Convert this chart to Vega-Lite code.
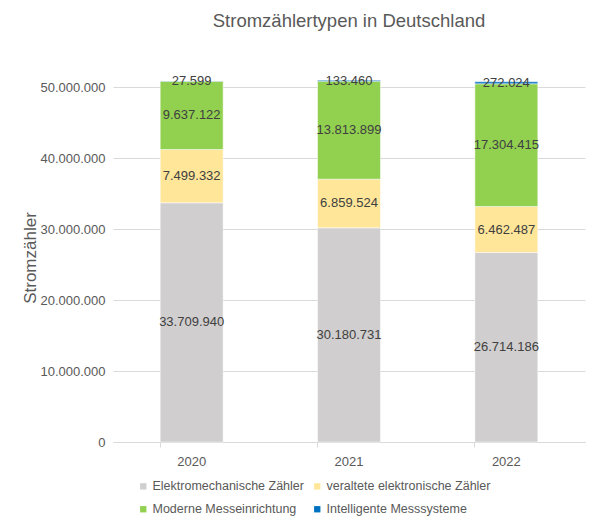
{
  "$schema": "https://vega.github.io/schema/vega-lite/v6.json",
  "width": 472,
  "height": 369,
  "padding": {"left": 21, "top": 11, "right": 14, "bottom": 5},
  "background": "white",
  "config": {
    "font": "Liberation Sans",
    "view": {"stroke": null},
    "locale": {"number": {"decimal": ",", "thousands": ".", "grouping": [3], "currency": ["", " €"]}}
  },
  "title": {"text": "Stromzählertypen in Deutschland", "fontSize": 18.5, "fontWeight": "normal", "color": "#595959", "offset": 43, "font": "Liberation Sans"},
  "data": {"values": [
    {"jahr": "2020", "typ": "Elektromechanische Zähler", "ord": 1, "anzahl": 33709940},
    {"jahr": "2020", "typ": "veraltete elektronische Zähler", "ord": 2, "anzahl": 7499332},
    {"jahr": "2020", "typ": "Moderne Messeinrichtung", "ord": 3, "anzahl": 9637122},
    {"jahr": "2020", "typ": "Intelligente Messsysteme", "ord": 4, "anzahl": 27599},
    {"jahr": "2021", "typ": "Elektromechanische Zähler", "ord": 1, "anzahl": 30180731},
    {"jahr": "2021", "typ": "veraltete elektronische Zähler", "ord": 2, "anzahl": 6859524},
    {"jahr": "2021", "typ": "Moderne Messeinrichtung", "ord": 3, "anzahl": 13813899},
    {"jahr": "2021", "typ": "Intelligente Messsysteme", "ord": 4, "anzahl": 133460},
    {"jahr": "2022", "typ": "Elektromechanische Zähler", "ord": 1, "anzahl": 26714186},
    {"jahr": "2022", "typ": "veraltete elektronische Zähler", "ord": 2, "anzahl": 6462487},
    {"jahr": "2022", "typ": "Moderne Messeinrichtung", "ord": 3, "anzahl": 17304415},
    {"jahr": "2022", "typ": "Intelligente Messsysteme", "ord": 4, "anzahl": 272024}
  ]},
  "transform": [
    {"stack": "anzahl", "groupby": ["jahr"], "sort": [{"field": "ord", "order": "ascending"}], "as": ["y0", "y1"]},
    {"calculate": "(datum.y0 + datum.y1) / 2", "as": "mid"}
  ],
  "encoding": {
    "x": {
      "field": "jahr", "type": "nominal",
      "scale": {"paddingInner": 0.6, "paddingOuter": 0.3},
      "axis": {"title": null, "labelAngle": 0, "labelFontSize": 13, "labelColor": "#595959", "labelPadding": 8,
               "domainColor": "#D9D9D9", "tickColor": "#D9D9D9", "tickSize": 5, "bandPosition": 0, "grid": false}
    }
  },
  "layer": [
    {
      "mark": {"type": "bar", "stroke": "white", "strokeWidth": 0.5},
      "encoding": {
        "y": {
          "field": "y0", "type": "quantitative",
          "scale": {"domain": [0, 52000000], "nice": false},
          "axis": {"title": "Stromzähler", "titleFontSize": 17, "titleFontWeight": "normal", "titleColor": "#595959", "titlePadding": 0,
                   "values": [0, 10000000, 20000000, 30000000, 40000000, 50000000], "format": ",d",
                   "labelFontSize": 13, "labelColor": "#595959", "labelPadding": 8,
                   "domain": false, "ticks": false, "gridColor": "#D9D9D9", "gridWidth": 1}
        },
        "y2": {"field": "y1"},
        "color": {
          "field": "typ", "type": "nominal",
          "scale": {"domain": ["Elektromechanische Zähler", "veraltete elektronische Zähler", "Moderne Messeinrichtung", "Intelligente Messsysteme"],
                    "range": ["#D0CECE", "#FFE699", "#92D050", "#0070C0"]},
          "legend": {"orient": "none", "legendX": 24, "legendY": 407, "direction": "horizontal", "columns": 2, "title": null, "symbolType": "square", "symbolSize": 40,
                     "symbolStrokeWidth": 0, "labelFontSize": 12.5, "labelOffset": 3, "labelColor": "#595959", "labelLimit": 400, "rowPadding": 10, "columnPadding": 7}
        }
      }
    },
    {
      "mark": {"type": "text", "fontSize": 13, "color": "#404040"},
      "encoding": {
        "y": {"field": "mid", "type": "quantitative"},
        "text": {"field": "anzahl", "type": "quantitative", "format": ",d"}
      }
    }
  ]
}
